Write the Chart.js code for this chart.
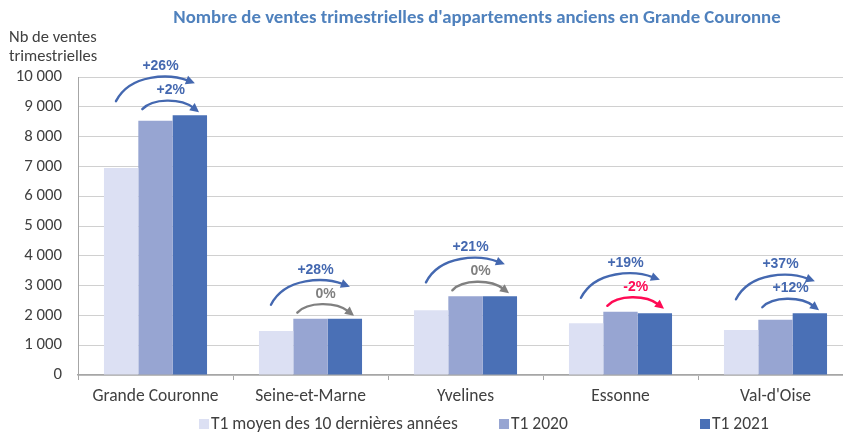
<!DOCTYPE html>
<html>
<head>
<meta charset="utf-8">
<script src="https://cdn.jsdelivr.net/npm/chart.js"></script>
<style>
  html, body { margin: 0; padding: 0; background: #fff; overflow: hidden; }
  #wrap { width: 860px; height: 434px; }
</style>
</head>
<body>
<div id="wrap"><canvas id="graphCanvas" width="860" height="434"></canvas></div>
<script>
var categories = ['Grande Couronne', 'Seine-et-Marne', 'Yvelines', 'Essonne', "Val-d'Oise"];
var seriesNames = ['T1 moyen des 10 dernières années', 'T1 2020', 'T1 2021'];
var avg10 = [6950, 1480, 2170, 1740, 1510];
var t12020 = [8530, 1890, 2640, 2120, 1850];
var t12021 = [8720, 1890, 2640, 2075, 2070];
var evolVsAvg = ['+26%', '+28%', '+21%', '+19%', '+37%'];
var evolVs2020 = ['+2%', '0%', '0%', '-2%', '+12%'];
var yTicks = [0, 1000, 2000, 3000, 4000, 5000, 6000, 7000, 8000, 9000, 10000];

var fontName = 'Carlito, Lato, sans-serif';
var textColor = '#404040';
var blue = '#4468B0';

function fmt(v) {
    return String(v).replace(/\B(?=(\d{3})+(?!\d))/g, ' ');
}

function arcColor(label) {
    if (label.charAt(0) === '-') return '#FF0A54';
    if (label === '0%') return '#808080';
    return blue;
}

function drawArrow(ctx, sx, sy, ex, ey, peak, color) {
    var dx = ex - sx;
    var p = (peak - (sy + ey) / 8) / 0.75;
    var c1x = sx + dx * 0.18, c2x = sx + dx * 0.68;
    ctx.save();
    ctx.strokeStyle = color;
    ctx.fillStyle = color;
    ctx.lineWidth = 2.4;
    ctx.lineCap = 'round';
    var ang = Math.atan2(ey - p, ex - c2x);
    var bx = ex - Math.cos(ang) * 7, by = ey - Math.sin(ang) * 7;
    ctx.beginPath();
    ctx.moveTo(sx, sy);
    ctx.bezierCurveTo(c1x, p, c2x, p, bx, by);
    ctx.stroke();
    ctx.beginPath();
    ctx.moveTo(ex, ey);
    ctx.lineTo(ex - Math.cos(ang) * 9 - Math.sin(ang) * 4.5, ey - Math.sin(ang) * 9 + Math.cos(ang) * 4.5);
    ctx.lineTo(ex - Math.cos(ang) * 9 + Math.sin(ang) * 4.5, ey - Math.sin(ang) * 9 - Math.cos(ang) * 4.5);
    ctx.closePath();
    ctx.fill();
    ctx.restore();
}

var decorPlugin = {
    id: 'decor',
    afterDraw: function (chart) {
        var ctx = chart.ctx;
        ctx.save();
        // title
        ctx.fillStyle = '#4F81BD';
        ctx.font = 'bold 18.8px ' + fontName;
        ctx.textAlign = 'center';
        ctx.textBaseline = 'middle';
        ctx.fillText("Nombre de ventes trimestrielles d'appartements anciens en Grande Couronne", 477, 18);
        // y axis title
        ctx.fillStyle = textColor;
        ctx.font = '16.5px ' + fontName;
        ctx.textAlign = 'left';
        ctx.fillText('Nb de ventes', 9, 38);
        ctx.fillText('trimestrielles', 9, 57);

        // arrows
        var m1 = chart.getDatasetMeta(0).data;
        var m2 = chart.getDatasetMeta(1).data;
        var m3 = chart.getDatasetMeta(2).data;
        for (var i = 0; i < categories.length; i++) {
            var b1 = m1[i], b2 = m2[i], b3 = m3[i];
            var yTop = Math.min(b2.y, b3.y);
            var b1Left = b1.x - b1.width / 2;
            var b2Left = b2.x - b2.width / 2;
            var b2Right = b2.x + b2.width / 2;
            var b3Right = b3.x + b3.width / 2;
            var center = b2.x;

            var cBig = arcColor(evolVsAvg[i]);
            drawArrow(ctx, b1Left + 12, yTop - 14, b3.x + 5, yTop - 32, yTop - 37, cBig);
            ctx.fillStyle = cBig;
            ctx.font = 'bold 14px "Liberation Sans", Arial, sans-serif';
            ctx.textAlign = 'center';
            ctx.fillText(evolVsAvg[i], center + 5, yTop - 49);

            var cSmall = arcColor(evolVs2020[i]);
            drawArrow(ctx, b2Left + 4, yTop - 6, b3Right - 8, yTop - 3, yTop - 14, cSmall);
            ctx.fillStyle = cSmall;
            ctx.fillText(evolVs2020[i], b2Right - 2, yTop - 25);
        }

        // legend
        var legX = [199, 499, 700];
        ctx.font = '17.5px ' + fontName;
        ctx.textAlign = 'left';
        chart.data.datasets.forEach(function (ds, k) {
            ctx.fillStyle = ds.backgroundColor;
            ctx.fillRect(legX[k], 419, 10, 10);
            ctx.fillStyle = textColor;
            ctx.fillText(ds.label, legX[k] + 12, 425);
        });
        ctx.restore();
    }
};

var chartdata = {
    labels: categories,
    datasets: [
        { label: seriesNames[0], backgroundColor: '#DCE0F3', data: avg10 },
        { label: seriesNames[1], backgroundColor: '#97A5D2', data: t12020 },
        { label: seriesNames[2], backgroundColor: '#4A70B6', data: t12021 }
    ]
};

var graphTarget = document.getElementById('graphCanvas');

var barGraph = new Chart(graphTarget, {
    type: 'bar',
    data: chartdata,
    options: {
        responsive: false,
        animation: false,
        devicePixelRatio: 1,
        datasets: { bar: { barPercentage: 1, categoryPercentage: 0.665 } },
        layout: { padding: { top: 77, right: 7, left: 0, bottom: 0 } },
        plugins: { legend: { display: false }, tooltip: { enabled: false }, title: { display: false } },
        scales: {
            x: {
                grid: { offset: true, drawOnChartArea: false, drawTicks: true, tickLength: 5, color: '#A6A6A6' },
                border: { color: '#A6A6A6', width: 1.5 },
                ticks: { font: { family: fontName, size: 17.5 }, color: textColor, padding: 6, maxRotation: 0 },
                afterFit: function (s) { s.height = 59; }
            },
            y: {
                min: 0,
                max: 10000,
                afterBuildTicks: function (s) { s.ticks = yTicks.map(function (v) { return { value: v }; }); },
                ticks: { font: { family: fontName, size: 16.8 }, color: textColor, padding: 16, callback: function (v) { return fmt(v); } },
                grid: { color: '#D0D0D0', drawTicks: false },
                border: { color: '#A6A6A6' },
                afterFit: function (s) { s.width = 78; }
            }
        }
    },
    plugins: [decorPlugin]
});
</script>
</body>
</html>
